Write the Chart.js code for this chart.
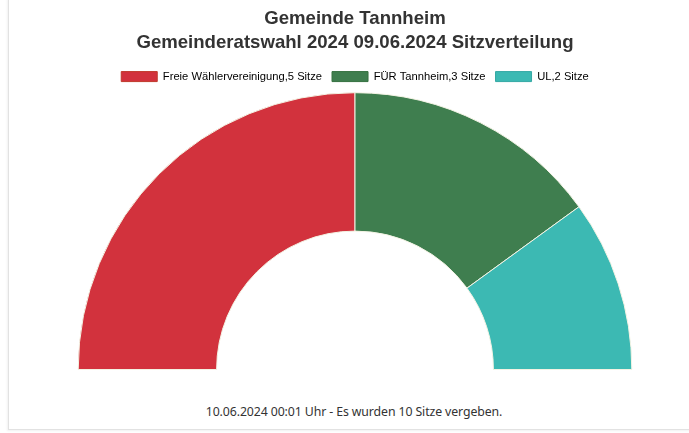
<!DOCTYPE html>
<html>
<head>
<meta charset="utf-8">
<script src="https://cdn.jsdelivr.net/npm/chart.js@4"></script>
<style>
    html, body { margin: 0; padding: 0; background: #fff; overflow: hidden; }
    body { width: 689px; height: 433px; position: relative; }
    .panel {
        position: absolute; left: 8px; top: -2px; width: 700px; height: 431px;
        border-left: 1px solid #e2e2e2; border-bottom: 1px solid #e2e2e2;
        box-shadow: -1px 1px 2px rgba(0,0,0,0.06);
    }
    .chart-box { position: absolute; left: 1px; top: 2px; width: 690px; height: 385px; }
    .footer {
        position: absolute; left: 0; width: 690px; top: 405px;
        text-align: center; font: 12.3px "Noto Sans", sans-serif; color: #333;
        letter-spacing: -0.1px;
    }
</style>
</head>
<body>
<div class="panel">
    <div class="chart-box"><canvas id="seatChart"></canvas></div>
    <div class="footer">10.06.2024 00:01 Uhr - Es wurden 10 Sitze vergeben.</div>
</div>
<script>
    // Sitzverteilung
    const parties = ['Freie Wählervereinigung,5 Sitze', 'FÜR Tannheim,3 Sitze', 'UL,2 Sitze'];
    const seats = [5, 3, 2];
    const partyColors = ['#d2323d', '#3f7e4f', '#3cb9b3'];
    const borderColors = ['#c0392b', '#35703f', '#34a9a4'];

    const ctx = document.getElementById('seatChart').getContext('2d');
    new Chart(ctx, {
        type: 'doughnut',
        data: {
            labels: parties,
            datasets: [{
                data: seats,
                backgroundColor: partyColors,
                borderColor: '#f3f3e4',
                borderWidth: 1
            }]
        },
        options: {
            responsive: true,
            maintainAspectRatio: false,
            animation: false,
            rotation: -90,
            circumference: 180,
            cutout: '50%',
            layout: { padding: { top: 0, bottom: 15 } },
            plugins: {
                title: {
                    display: true,
                    text: ['Gemeinde Tannheim', 'Gemeinderatswahl 2024 09.06.2024 Sitzverteilung'],
                    color: '#333',
                    font: { family: 'Liberation Sans', size: 18.6, weight: 'bold', lineHeight: 1.29 },
                    padding: { top: 7, bottom: 6 }
                },
                legend: {
                    labels: {
                        color: '#444',
                        font: { family: 'Liberation Sans', size: 11.2 },
                        boxWidth: 36,
                        boxHeight: 10,
                        padding: 10,
                        generateLabels: chart => parties.map((p, i) => ({
                            text: p,
                            fillStyle: partyColors[i],
                            strokeStyle: borderColors[i],
                            lineWidth: 1,
                            index: i
                        }))
                    }
                },
                tooltip: { enabled: false }
            }
        }
    });
</script>
</body>
</html>
